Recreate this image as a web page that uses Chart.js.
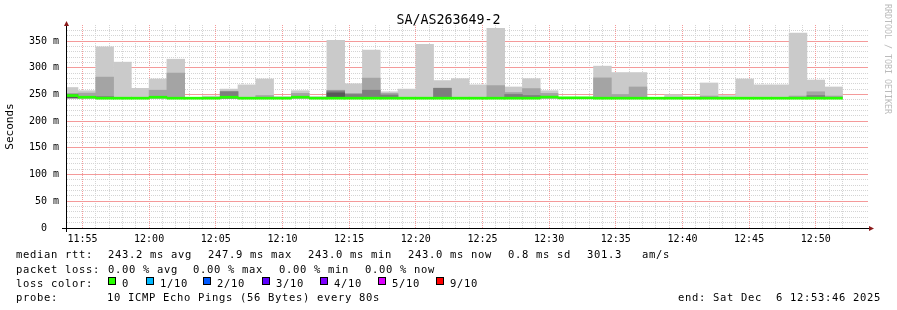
<!DOCTYPE html>
<html>
<head>
<meta charset="utf-8">
<script src="https://cdn.jsdelivr.net/npm/chart.js@4/dist/chart.umd.min.js"></script>
<style>
  body { margin: 0; background: #fff; }
  #wrap { position: relative; width: 897px; height: 310px; font-family: "DejaVu Sans Mono", monospace; color: #000; }
  #wrap canvas { position: absolute; left: 0; top: 0; }
  .txt { position: absolute; white-space: pre; font-size: 10.5px; line-height: 12px; letter-spacing: 0.68px; }
  .box { position: absolute; width: 6px; height: 6px; border: 1px solid #000; }
  #title { position: absolute; left: 0; top: 12px; width: 897px; text-align: center; font-size: 13.3px; line-height: 16px; }
  #mark { position: absolute; left: 883px; top: 4px; writing-mode: vertical-rl; font-size: 8.3px; line-height: 10px; color: #bbb; white-space: pre; }
</style>
</head>
<body>
<div id="wrap">
  <canvas id="chart" width="897" height="310"></canvas>
  <div id="title">SA/AS263649-2</div>
  <div id="mark">RRDTOOL / TOBI OETIKER</div>

  <div class="txt" style="left:16px;top:248px">median rtt:</div>
  <div class="txt" style="left:108px;top:248px">243.2 ms avg</div>
  <div class="txt" style="left:208px;top:248px">247.9 ms max</div>
  <div class="txt" style="left:308px;top:248px">243.0 ms min</div>
  <div class="txt" style="left:408px;top:248px">243.0 ms now</div>
  <div class="txt" style="left:508px;top:248px">0.8 ms sd</div>
  <div class="txt" style="left:587px;top:248px">301.3</div>
  <div class="txt" style="left:642px;top:248px">am/s</div>

  <div class="txt" style="left:16px;top:262.5px">packet loss:</div>
  <div class="txt" style="left:108px;top:262.5px">0.00 % avg</div>
  <div class="txt" style="left:193px;top:262.5px">0.00 % max</div>
  <div class="txt" style="left:279px;top:262.5px">0.00 % min</div>
  <div class="txt" style="left:365px;top:262.5px">0.00 % now</div>

  <div class="txt" style="left:16px;top:276.5px">loss color:</div>
  <div id="lossLegend"></div>

  <div class="txt" style="left:16px;top:290.5px">probe:</div>
  <div class="txt" style="left:107px;top:290.5px">10 ICMP Echo Pings (56 Bytes) every 80s</div>
  <div class="txt" style="left:678px;top:290.5px">end: Sat Dec  6 12:53:46 2025</div>
</div>
<script>
// 80 s bins (centre times)
const binTimes = [
  '11:54:00', '11:55:20', '11:56:40', '11:58:00', '11:59:20', '12:00:40', '12:02:00', '12:03:20', '12:04:40', '12:06:00',
  '12:07:20', '12:08:40', '12:10:00', '12:11:20', '12:12:40', '12:14:00', '12:15:20', '12:16:40', '12:18:00', '12:19:20',
  '12:20:40', '12:22:00', '12:23:20', '12:24:40', '12:26:00', '12:27:20', '12:28:40', '12:30:00', '12:31:20', '12:32:40',
  '12:34:00', '12:35:20', '12:36:40', '12:38:00', '12:39:20', '12:40:40', '12:42:00', '12:43:20', '12:44:40', '12:46:00',
  '12:47:20', '12:48:40', '12:50:00', '12:51:20'
];

// ping rtt in ms
const rttMin = [
  243.5, 242.8, 242.8, 242.8, 242.8, 242.8, 242.8, 242.8, 242.8, 242.8,
  242.8, 242.8, 242.8, 242.8, 242.8, 242.8, 242.8, 242.8, 242.8, 242.8,
  242.8, 242.8, 242.8, 242.8, 242.8, 242.8, 242.8, 242.8, 242.8, 242.8,
  242.8, 242.8, 242.8, 242.8, 242.8, 242.8, 242.8, 242.8, 242.8, 242.8,
  242.8, 242.8, 242.8, 242.8
];
const rttMax = [
  263, 257, 339, 310.5, 261.5, 279, 316, 244.5, 247, 260,
  268, 279, 246, 257, 246, 351.5, 270, 333, 255, 260,
  344, 276, 279.6, 268, 374, 264, 279.6, 257, 245, 245,
  303, 291, 291, 244.5, 249.6, 246, 271.5, 248, 279, 268,
  268, 365, 277, 264
];
const rttP9 = [
  252, 252.5, 282.5, null, null, 258, 290, null, null, 256,
  null, 248, null, 252, null, 258, 252, 280.6, 252, null,
  null, 262, null, null, 266.6, 253.6, 261, 252, null, null,
  281, 250, 264, null, null, null, 247, null, null, null,
  null, 247, 255, 247
];
const rttP8 = [
  250, null, 246, null, null, null, null, null, null, 255,
  null, null, null, null, null, 256.5, 250, 258, 249, null,
  null, 261.5, null, null, null, 250, 248, null, null, null,
  null, null, null, null, null, null, null, null, null, null,
  null, null, 248, null
];
const rttP7 = [
  246, null, null, null, null, null, null, null, null, null,
  null, null, null, null, null, 253, null, null, null, null,
  null, null, null, null, null, null, null, null, null, null,
  null, null, null, null, null, null, null, null, null, null,
  null, null, null, null
];
const medianRtt = [
  247.9, 244.8, 243.0, 243.0, 243.0, 244.8, 243.0, 243.0, 243.0, 244.8,
  243.0, 243.0, 243.0, 244.8, 243.0, 243.0, 243.0, 243.0, 243.0, 243.0,
  243.0, 243.0, 243.0, 243.0, 243.0, 243.0, 243.0, 245.0, 243.6, 243.6,
  243.0, 243.0, 243.0, 243.0, 243.0, 243.0, 243.0, 243.0, 243.0, 243.0,
  243.0, 243.0, 243.0, 243.0
];

const lossLabels = ['0', '1/10', '2/10', '3/10', '4/10', '5/10', '9/10'];
const lossColors = ['#26ff00', '#00b8ff', '#0059ff', '#5e00ff', '#7e00ff', '#dd00ff', '#ff0000'];

const xStart = '11:53:46';
const xEnd = '12:53:55';

const FONT = '"DejaVu Sans Mono", monospace';
const MEDIAN_HALF = 1.9;   // half thickness of median line, ms
const lossBoxX = [108, 146, 203, 262, 320, 378, 436];

function toMin(s) {
  const p = s.split(':').map(Number);
  return p[0] * 60 + p[1] + (p[2] || 0) / 60;
}
function hhmm(v) {
  const h = Math.floor(v / 60), m = Math.round(v - h * 60);
  return h + ':' + String(m).padStart(2, '0');
}

const xs = binTimes.map(toMin);

function layer(top) {
  const out = [];
  top.forEach((v, i) => {
    if (v != null) out.push({ x: xs[i], y: [rttMin[i], v] });
  });
  return out;
}

// loss colour legend
const lossDiv = document.getElementById('lossLegend');
lossLabels.forEach((lab, i) => {
  const b = document.createElement('div');
  b.className = 'box';
  b.style.left = lossBoxX[i] + 'px';
  b.style.top = '277px';
  b.style.background = lossColors[i];
  lossDiv.appendChild(b);
  const t = document.createElement('div');
  t.className = 'txt';
  t.style.left = (lossBoxX[i] + 14) + 'px';
  t.style.top = '276.5px';
  t.textContent = lab;
  lossDiv.appendChild(t);
});

const isWhole = v => Math.abs(v - Math.round(v)) < 1e-6;
const MAJOR = '#f49a9a';
const MINOR = '#d4d4d4';
const NONE = 'rgba(0,0,0,0)';

// red major grid (every 5 min / 50 ms) redrawn under the smoke
const majorGrid = {
  id: 'majorGrid',
  beforeDatasetsDraw(chart) {
    const { ctx, chartArea: a, scales } = chart;
    ctx.save();
    ctx.strokeStyle = MAJOR;
    ctx.lineWidth = 1;
    ctx.setLineDash([1, 1]);
    ctx.beginPath();
    scales.x.ticks.forEach(t => {
      if (isWhole(t.value) && Math.round(t.value) % 5 === 0) {
        const px = Math.round(scales.x.getPixelForValue(t.value) - 0.5) + 0.5;
        ctx.moveTo(px, a.top);
        ctx.lineTo(px, a.bottom);
      }
    });
    scales.y.ticks.forEach(t => {
      if (t.value > 0 && t.value < 380 && t.value % 50 === 0) {
        const py = Math.round(scales.y.getPixelForValue(t.value) - 0.5) + 0.5;
        ctx.moveTo(a.left, py);
        ctx.lineTo(a.right, py);
      }
    });
    ctx.stroke();
    ctx.restore();
  }
};

const axisArrows = {
  id: 'axisArrows',
  afterDraw(chart) {
    const { ctx, chartArea: a } = chart;
    ctx.save();
    ctx.strokeStyle = '#000';
    ctx.lineWidth = 1;
    ctx.beginPath();
    ctx.moveTo(a.left - 4, a.bottom + 0.5);
    ctx.lineTo(a.right + 2, a.bottom + 0.5);
    ctx.moveTo(a.left + 0.5, a.bottom + 4);
    ctx.lineTo(a.left + 0.5, a.top);
    ctx.stroke();
    ctx.fillStyle = '#8b1a1a';
    ctx.beginPath();
    ctx.moveTo(a.right + 1, a.bottom - 2);
    ctx.lineTo(a.right + 6, a.bottom + 0.5);
    ctx.lineTo(a.right + 1, a.bottom + 3);
    ctx.fill();
    ctx.beginPath();
    ctx.moveTo(a.left - 2, a.top + 1);
    ctx.lineTo(a.left + 0.5, a.top - 4);
    ctx.lineTo(a.left + 3, a.top + 1);
    ctx.fill();
    ctx.restore();
  }
};

new Chart(document.getElementById('chart'), {
  type: 'bar',
  data: {
    datasets: [
      { data: medianRtt.map((m, i) => ({ x: xs[i], y: [m - MEDIAN_HALF, m + MEDIAN_HALF] })), backgroundColor: '#26ff00', order: 0 },
      { data: layer(rttP7), backgroundColor: '#585858', order: 1 },
      { data: layer(rttP8), backgroundColor: '#7e7e7e', order: 2 },
      { data: layer(rttP9), backgroundColor: '#a4a4a4', order: 3 },
      { data: layer(rttMax), backgroundColor: '#cacaca', order: 4 }
    ]
  },
  options: {
    responsive: false,
    animation: false,
    layout: { padding: { top: 25, right: 29, left: 0, bottom: 0 } },
    datasets: {
      bar: { xAxisID: 'xb', grouped: false, barPercentage: 1, categoryPercentage: 1, borderWidth: 0 }
    },
    plugins: {
      legend: { display: false },
      tooltip: { enabled: false }
    },
    scales: {
      // bar axis: same range, no ticks, so bar width comes from the 80 s bin spacing
      xb: {
        type: 'linear',
        position: 'bottom',
        display: false,
        offset: false,
        grid: { offset: false },
        min: toMin(xStart),
        max: toMin(xEnd),
        afterBuildTicks: s => { s.ticks = []; }
      },
      x: {
        type: 'linear',
        position: 'bottom',
        offset: false,
        min: toMin(xStart),
        max: toMin(xEnd),
        afterFit: s => { s.height = 82; },
        border: { display: true, color: '#000', dash: [1, 1] },
        grid: {
          offset: false,
          drawTicks: false,
          borderDash: [1, 1],
          color: c => {
            if (!c.tick) return NONE;
            const v = c.tick.value;
            if (!isWhole(v)) return NONE;
            return Math.round(v) % 5 === 0 ? MAJOR : MINOR;
          }
        },
        ticks: {
          stepSize: 1,
          autoSkip: false,
          maxRotation: 0,
          padding: 5,
          color: '#000',
          font: { family: FONT, size: 10 },
          callback: v => (isWhole(v) && Math.round(v) % 5 === 0) ? hhmm(v) : ''
        }
      },
      y: {
        min: 0,
        max: 380,
        afterFit: s => { s.width = 66; },
        border: { display: true, color: '#000', dash: [1, 1] },
        grid: {
          drawTicks: false,
          borderDash: [1, 1],
          color: c => {
            if (!c.tick) return NONE;
            const v = c.tick.value;
            if (v === 0 || v === 380) return NONE;
            return v % 50 === 0 ? MAJOR : MINOR;
          }
        },
        ticks: {
          stepSize: 10,
          autoSkip: false,
          padding: 7,
          color: '#000',
          font: { family: FONT, size: 10 },
          callback: v => v % 50 !== 0 ? '' : (v === 0 ? '0  ' : v + ' m')
        },
        title: {
          display: true,
          text: 'Seconds',
          color: '#000',
          font: { family: FONT, size: 11 },
          padding: { top: 4, bottom: 0 }
        }
      }
    }
  },
  plugins: [majorGrid, axisArrows]
});
</script>
</body>
</html>
